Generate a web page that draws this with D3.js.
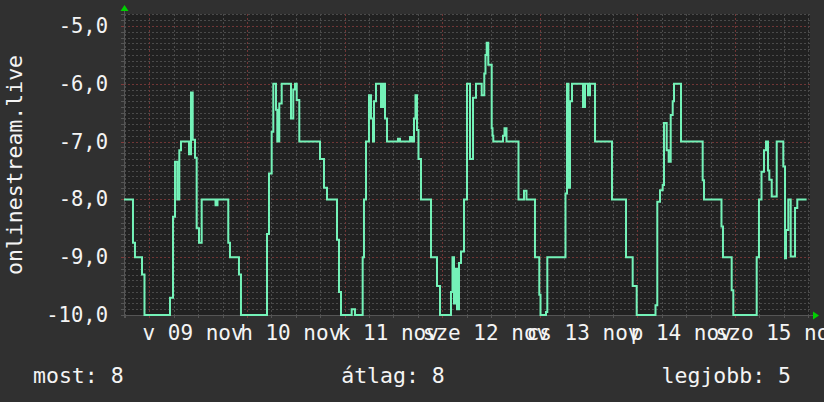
<!DOCTYPE html>
<html><head><meta charset="utf-8">
<script src="https://cdn.jsdelivr.net/npm/d3@7"></script>
<style>html,body{margin:0;padding:0;background:#303030;}svg{display:block;}</style>
</head><body>
<svg id="chart" width="824" height="402"></svg>
<script>
// ---- data ----
// hours since 2025-11-09 00:00 at which the value changes (step series)
const hours = [-6.22,-4.01,-3.52,-1.79,-1.18,5.09,5.83,6.32,6.88,7.38,7.79,9.76,10.25,10.67,11.24,11.65,12.22,12.88,16.28,16.77,19.42,19.84,22.05,22.54,
  28.94,29.43,30.09,30.49,31.15,31.47,31.96,32.55,34.84,35.40,35.82,36.24,36.88,41.97,42.95,43.69,46.15,46.64,47.13,49.76,50.57,
  52.46,52.78,53.28,54.01,54.50,55.00,55.24,55.73,56.96,57.46,57.95,58.44,61.14,61.63,64.09,64.58,65.08,65.44,65.81,66.18,66.80,69.26,70.73,71.47,
  74.17,74.54,74.91,75.28,75.65,76.14,76.63,77.37,78.11,78.85,79.58,80.32,81.72,82.36,82.65,82.95,83.34,84.18,84.38,84.57,86.96,87.33,87.82,90.77,92.12,92.73,94.82,95.88,96.18,97.53,
  97.85,102.32,102.69,103.06,103.43,103.92,106.63,107.12,107.85,108.35,109.58,113.75,117.20,118.84,119.83,
  124.45,124.89,125.56,126.22,126.54,127.20,127.69,128.19,128.68,129.00,130.72,136.05,136.37,140.67,141.04,143.18,143.58,
  149.33,149.89,150.51,151.12,151.62,152.11,152.43,153.02,154.25,155.87,156.29,156.53,157.10,157.69,158.75,159.31,161.6];
const values = [-8.0,-8.75,-9.0,-9.3,-10,-9.7,-8.3,-7.35,-8.0,-7.15,-7.0,-7.22,-6.15,-6.97,-7.28,-8.5,-8.75,-8.0,-8.1,-8.0,-8.75,-9.0,-9.3,-10,
  -8.6,-7.55,-6.83,-6.0,-6.45,-7.0,-6.34,-6.0,-6.6,-6.1,-6.0,-6.28,-7.0,-7.3,-7.8,-8.0,-8.7,-9.6,-10,-9.9,-10,
  -9.0,-8.0,-7.0,-6.2,-6.6,-7.0,-6.3,-6.0,-6.4,-6.0,-6.6,-7.0,-6.95,-7.0,-6.92,-7.0,-6.6,-6.2,-6.8,-7.3,-8.0,-9.0,-9.5,-10,
  -9.6,-9.0,-9.8,-9.2,-9.9,-9.1,-8.9,-8.0,-6.0,-7.3,-6.24,-6.0,-6.2,-5.82,-5.5,-5.29,-5.67,-6.77,-6.9,-7.0,-6.9,-6.77,-7.0,-8.0,-7.85,-8.0,-9.0,-9.65,-10,-9.95,
  -9.0,-7.9,-6.0,-7.8,-6.3,-6.0,-6.4,-6.0,-6.2,-6.0,-7.0,-8.0,-9.0,-9.5,-10,
  -9.83,-8.04,-7.84,-7.75,-6.68,-7.15,-7.35,-6.54,-6.3,-6.0,-7.0,-7.67,-8.0,-8.47,-9.0,-9.57,-10,
  -9.0,-8.0,-7.52,-7.15,-7.0,-7.5,-7.66,-7.95,-7.0,-7.43,-9.02,-8.53,-8.0,-8.99,-8.15,-8.0,-8.0];
const yTicks = [-10,-9,-8,-7,-6,-5];
const dayLabels = ["v 09 nov","h 10 nov","k 11 nov","sze 12 nov","cs 13 nov","p 14 nov","szo 15 nov"];
const yTitle = "onlinestream.live";
const legendItems = [["most", 8], ["átlag", 8], ["legjobb", 5]];

// ---- chart ----
const svg = d3.select("#chart");
const W = 824, H = 402;
const L = 124, R = 810, T = 14, B = 315;
const base = new Date(2025, 10, 9, 0, 0);
const toDate = h => new Date(base.getTime() + h * 3600e3);
const x = d3.scaleTime().domain([new Date(2025,10,8,17,47), new Date(2025,10,15,18,26)]).range([L, R]);
const y = d3.scaleLinear().domain([-10, -5]).range([B, 26]);
const vTop = y.invert(T);
const loc = d3.formatLocale({decimal: ",", thousands: " ", grouping: [3], currency: ["", ""], minus: "-"});
const fmt = loc.format(".1f");
const font = "'DejaVu Sans Mono', monospace";
const txt = "#f4f4f4";

svg.append("rect").attr("width", W).attr("height", H).attr("fill", "#303030");
svg.append("rect").attr("x", L).attr("y", T).attr("width", R - L).attr("height", B - T).attr("fill", "#212121");

const grid = svg.append("g");
// minor horizontal grid every 0.1
const minorY = d3.range(-100, Math.floor(vTop * 10) + 1).map(i => i / 10);
minorY.forEach(v => {
  const major = Math.abs(v - Math.round(v)) < 1e-6;
  const yy = Math.round(y(v)) + 0.5;
  grid.append("line").attr("x1", L).attr("x2", R).attr("y1", yy).attr("y2", yy)
    .attr("stroke", major ? "#703636" : "#4a4a4a").attr("stroke-width", 1).attr("stroke-dasharray", "2,2");
  grid.append("line").attr("x1", L - 3).attr("x2", L).attr("y1", yy).attr("y2", yy)
    .attr("stroke", major ? "#803a3a" : "#555");
});
// vertical grid every 6 hours
x.ticks(d3.timeHour.every(6)).forEach(t => {
  const major = t.getHours() === 0;
  const xx = Math.round(x(t)) + 0.5;
  grid.append("line").attr("x1", xx).attr("x2", xx).attr("y1", T).attr("y2", B)
    .attr("stroke", major ? "#703636" : "#4a4a4a").attr("stroke-dasharray", "2,2");
  grid.append("line").attr("x1", xx).attr("x2", xx).attr("y1", B).attr("y2", B + 3)
    .attr("stroke", major ? "#803a3a" : "#555");
});

// axes lines
svg.append("line").attr("x1", L - 3).attr("x2", R + 3).attr("y1", B + 0.5).attr("y2", B + 0.5).attr("stroke", "#555");
svg.append("line").attr("x1", L + 0.5).attr("x2", L + 0.5).attr("y1", T - 3).attr("y2", B + 3).attr("stroke", "#555");
// arrows
svg.append("path").attr("d", `M${R+3},${B-3.5} L${R+9},${B+0.5} L${R+3},${B+4.5} Z`).attr("fill", "#00d000");
svg.append("path").attr("d", `M${L-3.5},${T-3} L${L+0.5},${T-9} L${L+4.5},${T-3} Z`).attr("fill", "#00d000");

// data line
const pts = hours.map((h, i) => [toDate(h), values[i]]);
const line = d3.line().x(d => x(d[0])).y(d => y(d[1])).curve(d3.curveStepAfter);
svg.append("path").datum(pts).attr("d", line).attr("fill", "none")
  .attr("stroke", "#74f2b8").attr("stroke-width", 2).attr("stroke-linejoin", "miter");

// y tick labels
yTicks.forEach(v => {
  svg.append("text").attr("x", 108).attr("y", y(v) + 7).attr("text-anchor", "end")
    .attr("font-family", font).attr("font-size", 20.5).attr("fill", txt).text(fmt(v));
});
// y title
svg.append("text").attr("transform", `translate(22,165) rotate(-90)`).attr("text-anchor", "middle")
  .attr("font-family", font).attr("font-size", 21.5).attr("fill", txt).text(yTitle);
// x labels
dayLabels.forEach((s, i) => {
  const t = new Date(2025, 10, 9 + i, 12, 0);
  svg.append("text").attr("x", x(t) - 5).attr("y", 340).attr("text-anchor", "middle")
    .attr("font-family", font).attr("font-size", 21).attr("fill", txt).text(s);
});
// legend
const legX = [33, 393, 791], legA = ["start", "middle", "end"];
legendItems.forEach((d, i) => {
  svg.append("text").attr("x", legX[i]).attr("y", 383).attr("text-anchor", legA[i])
    .attr("font-family", font).attr("font-size", 21.5).attr("fill", txt)
    .text(`${d[0]}: ${d[1]}`);
});
</script>
</body></html>
